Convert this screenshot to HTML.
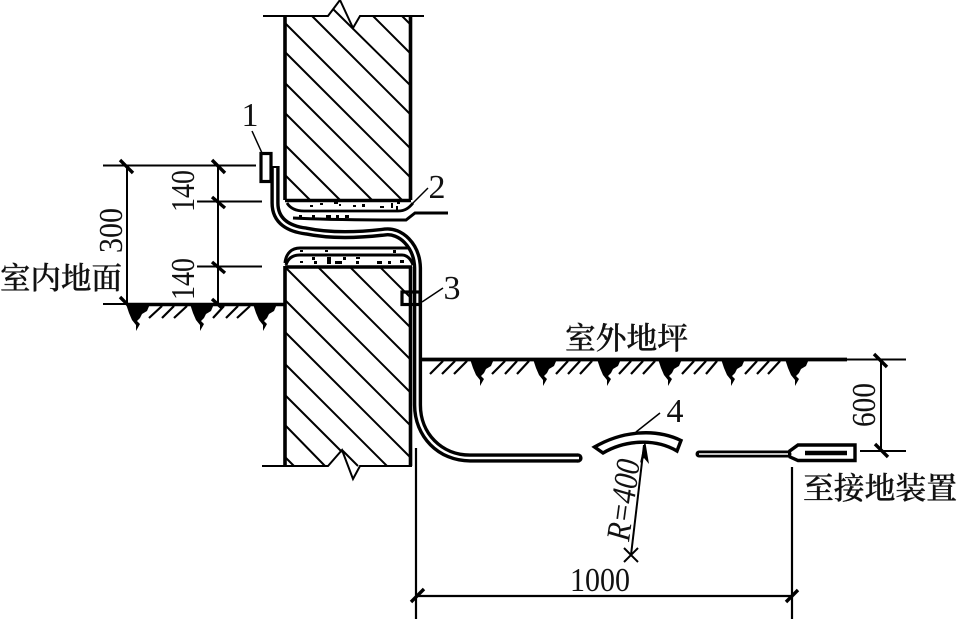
<!DOCTYPE html>
<html>
<head>
<meta charset="utf-8">
<style>
html,body{margin:0;padding:0;background:#fff;}
svg{display:block;}
text{fill:#111;font-family:"Liberation Serif","Noto Serif CJK SC",serif;}
.cjk{font-family:"Noto Serif CJK SC","Liberation Serif",serif;font-size:30.5px;font-weight:500;stroke:#111;stroke-width:.35px;}
.n{font-size:34px;}
</style>
</head>
<body>
<svg width="957" height="619" viewBox="0 0 957 619" xmlns="http://www.w3.org/2000/svg" fill="none" stroke="#000">
<defs>
<polygon id="b" stroke="none" fill="#000" points="0,-1 24,-1 21,6 16,9 14,13 11,16 14,19 10,26 10,20 6,15 3,8"/>
</defs>

<!-- wall hatching upper -->
<g stroke-width="2">
<path d="M284,174 L310,200 M284,144 L340,200 M284,112 L372,200 M284,82 L402,200 M285,52 L410,177 M285,23 L410,148 M312,16 L410,114 M333,9 L410,85 M373,16 L410,53 M402,16 L410,24"/>
<path d="M286,268 L410,392 M318,267 L410,359 M350,267 L410,327 M380,267 L410,297 M285,300 L410,425 M285,332 L410,457 M285,364 L387,466 M285,395 L342,452 M285,425 L325,466 M285,457 L294,466 M342,450 L358,466"/>
</g>

<!-- wall outlines -->
<path stroke-width="3.6" d="M285,16 V200 M285,266 V466 M410.5,16 V200 M410.5,267 V466"/>
<path stroke-width="2" d="M263,16 H328 L340,0 L353,28 L360,16 H424"/>
<path stroke-width="2" d="M262,466 H328 L342,450 L353,479 L360,466 H412"/>

<!-- screed top -->
<path stroke-width="3.4" d="M285,200.5 H411"/>
<path stroke-width="2.8" d="M287,203 C290,208 295,211 304,211 H398 C405,211 409,208 413,203"/>
<path stroke-width="3" d="M293,218 C330,220 370,220 406,220 L415,213 H448"/>
<path stroke-width="1.5" d="M413,203 L428,188"/>

<!-- screed bottom -->
<path stroke-width="3" d="M285,263 C286,253 292,248 300,248 H408"/>
<path stroke-width="3" d="M286,265 C288,258 293,255 300,255 H402 C407,255 411,259 413,265"/>
<path stroke-width="3.4" d="M285,267 H412"/>

<!-- concrete dots -->
<g fill="#000" stroke="none">
<rect x="310" y="205" width="3" height="2"/><rect x="320" y="203" width="3" height="2"/><rect x="334" y="201" width="4" height="3"/><rect x="339" y="204" width="2" height="2"/><rect x="353" y="205" width="3" height="2"/><rect x="362" y="204" width="3" height="3"/><rect x="380" y="206" width="4" height="2"/><rect x="391" y="203" width="2" height="5"/><rect x="396" y="206" width="2" height="4"/><rect x="397" y="202" width="3" height="2"/>
<rect x="299" y="215" width="3" height="3"/><rect x="312" y="215" width="3" height="3"/><rect x="326" y="215" width="5" height="3"/><rect x="336" y="215" width="3" height="3"/><rect x="345" y="215" width="4" height="3"/>
<rect x="308" y="233" width="3" height="2"/><rect x="318" y="232" width="3" height="3"/><rect x="326" y="234" width="3" height="2"/>
<rect x="300" y="250" width="3" height="2"/><rect x="325" y="250" width="3" height="2"/><rect x="393" y="250" width="3" height="3"/>
<rect x="300" y="261" width="3" height="2"/><rect x="312" y="257" width="3" height="3"/><rect x="314" y="261" width="3" height="3"/><rect x="327" y="257" width="4" height="7"/><rect x="335" y="261" width="7" height="3"/><rect x="343" y="257" width="3" height="3"/><rect x="356" y="257" width="4" height="2"/><rect x="356" y="261" width="3" height="3"/><rect x="377" y="261" width="5" height="3"/><rect x="388" y="261" width="3" height="3"/><rect x="400" y="260" width="4" height="3"/>
</g>

<!-- pipe -->
<path stroke-width="9.2" stroke-linecap="butt" d="M275,166 L275,203 C275,222 290,229 306,231 C330,236 360,235 385,232 C400,230 417,245 417.5,268 L417.5,405 C417.5,435 440,458 470,458 L578,458"/>
<circle cx="578" cy="458" r="4.6" fill="#000" stroke="none"/>
<path stroke="#fff" stroke-width="2.4" d="M275,168 L275,203 C275,222 290,229 306,231 C330,236 360,235 385,232 C400,230 417,245 417.5,268 L417.5,405 C417.5,435 440,458 470,458 L579,458"/>

<!-- tag 1 -->
<rect x="261" y="153.5" width="10" height="28" stroke-width="3.2" fill="#fff"/>
<path stroke-width="1.5" d="M252,131 L262,153"/>
<!-- tag 3 -->
<rect x="402" y="292" width="18" height="12.5" stroke-width="3.2"/>
<path stroke-width="1.5" d="M422,302 L443,288"/>

<!-- left dimensions -->
<path stroke-width="2" d="M103,165.5 H256 M127,165 V304 M218,165 V304 M197,201.5 H262 M197,266.5 H262"/>
<path stroke-width="2" d="M103,304 H127"/>
<path stroke-width="3.6" d="M127,304.5 H284"/>
<path stroke-width="3.4" d="M120,160 L133,173 M212,160 L225,173 M212,197 L225,208 M212,262 L225,273 M120,297 L130,307 M212,299 L222,308"/>

<!-- left ground -->
<use href="#b" x="126" y="305"/><use href="#b" x="190" y="305"/><use href="#b" x="253" y="305"/>
<path stroke-width="2.2" d="M149,318 L162,306 M162,318 L174,306 M174,318 L187,306 M213,318 L224,306 M226,318 L238,306 M237,318 L250,306"/>

<!-- right ground -->
<path stroke-width="3.8" d="M422,359.5 H847"/>
<path stroke-width="2" d="M847,359.5 H906 M860,451 H906 M881,359 V451"/>
<path stroke-width="3.4" d="M874,354 L887,367 M875,444 L888,457"/>
<use href="#b" x="470" y="360"/><use href="#b" x="533" y="360"/><use href="#b" x="597" y="360"/><use href="#b" x="658" y="360"/><use href="#b" x="721" y="360"/><use href="#b" x="785" y="360"/>
<path stroke-width="2.2" d="M430,374 L443,361 M442,374 L455,361 M454,374 L467,361 M492,374 L505,361 M505,374 L517,361 M517,374 L529,361 M556,374 L568,361 M568,374 L580,361 M580,374 L592,361 M619,374 L631,361 M631,374 L643,361 M643,374 L655,361 M682,374 L694,361 M694,374 L706,361 M706,374 L717,361 M745,374 L757,361 M757,374 L769,361 M768,374 L780,361"/>

<!-- arc 4 -->
<path stroke-width="3.4" fill="#fff" d="M594.5,447 C622,431 655,428 681,440.5 L677,451 C655,438 625,440 603,453 Z"/>
<path stroke-width="1.5" d="M636,432 L660,413"/>

<!-- radius -->
<path stroke-width="2" d="M631,555 L644,445"/>
<polygon fill="#000" stroke="none" points="645,440 649,464 644,458 640,463"/>
<path stroke-width="2" d="M624,562 L638,548 M624,548 L638,562"/>

<!-- right strip -->
<path stroke-width="7" stroke-linecap="round" d="M699,454 H788"/>
<path stroke="#fff" stroke-width="1.4" d="M699,454 H788"/>
<path stroke-width="3.4" d="M789,451.5 L798,445 H855 V460.5 H798 L789,456.5"/>
<path stroke-width="4.4" d="M805,453 H847"/>

<!-- bottom dimension -->
<path stroke-width="2.2" d="M416,448 V619 M792,467 V619 M416,596 H792"/>
<path stroke-width="3.4" d="M411,602 L424,589 M786,602 L798,590"/>

<!-- labels -->
<g stroke="none">
<text class="n" x="250" y="126" text-anchor="middle">1</text>
<text class="n" x="437" y="198" text-anchor="middle">2</text>
<text class="n" x="452" y="299" text-anchor="middle">3</text>
<text class="n" x="675" y="422" text-anchor="middle">4</text>
<text class="n" x="570" y="591" textLength="60" lengthAdjust="spacingAndGlyphs">1000</text>
<text class="n" transform="translate(122,253) rotate(-90)" textLength="45" lengthAdjust="spacingAndGlyphs">300</text>
<text class="n" transform="translate(194,212) rotate(-90)" textLength="42" lengthAdjust="spacingAndGlyphs">140</text>
<text class="n" transform="translate(194,300) rotate(-90)" textLength="42" lengthAdjust="spacingAndGlyphs">140</text>
<text class="n" transform="translate(875,427) rotate(-90)" textLength="44" lengthAdjust="spacingAndGlyphs">600</text>
<text class="n" font-style="italic" transform="translate(629,542) rotate(-82.4)" textLength="82" lengthAdjust="spacingAndGlyphs">R=400</text>
<text class="cjk" x="0" y="289" textLength="122" lengthAdjust="spacingAndGlyphs">室内地面</text>
<text class="cjk" x="565" y="349" textLength="123" lengthAdjust="spacingAndGlyphs">室外地坪</text>
<text class="cjk" x="803" y="499" textLength="154" lengthAdjust="spacingAndGlyphs">至接地装置</text>
</g>
</svg>
</body>
</html>
